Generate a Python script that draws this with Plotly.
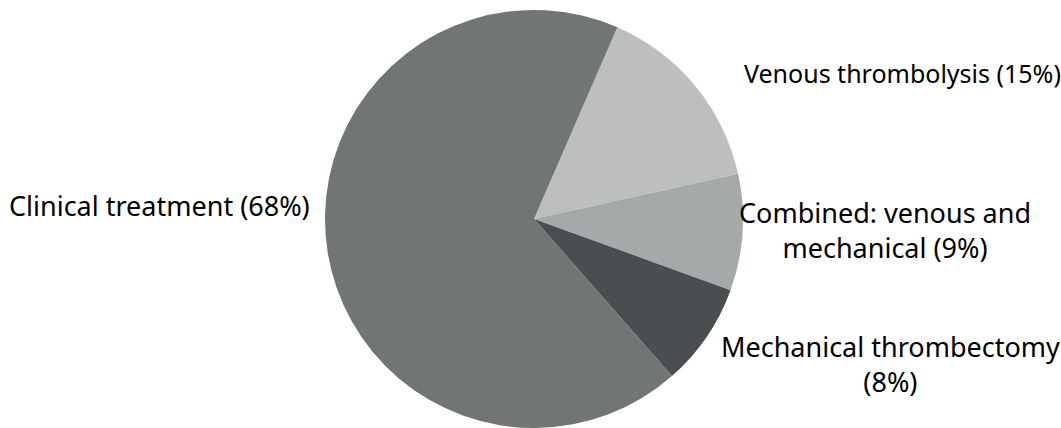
import plotly.graph_objects as go

labels = ["Venous thrombolysis", "Combined: venous and mechanical", "Mechanical thrombectomy", "Clinical treatment"]
values = [15, 9, 8, 68]
colors = ["#bdbfbe", "#a6a9aa", "#4a4e51", "#717675"]
label_texts = ["Venous thrombolysis (15%)", "Combined: venous and<br>mechanical (9%)",
               "Mechanical thrombectomy<br>(8%)", "Clinical treatment (68%)"]
# label centres in pixels (x, y) and font sizes
label_px = [(902, 73), (885, 230), (890, 364), (159, 205)]
label_size = [25, 27, 27, 27]

W, H = 1061, 428

fig = go.Figure(go.Pie(
    labels=labels, values=values, sort=False, direction="clockwise", rotation=23.5,
    marker=dict(colors=colors, line=dict(width=0)),
    textinfo="none", hoverinfo="label+percent", showlegend=False,
    domain=dict(x=[324 / W, 744 / W], y=[0, 1 - 10 / H]),
))

for t, (px, py), s in zip(label_texts, label_px, label_size):
    fig.add_annotation(text=t, x=px / W, y=1 - py / H, xref="paper", yref="paper",
                       xanchor="center", yanchor="middle", showarrow=False, align="center",
                       font=dict(family="Noto Sans", size=s, color="#000000"))

fig.update_layout(width=W, height=H, margin=dict(l=0, r=0, t=0, b=0),
                  paper_bgcolor="white", plot_bgcolor="white")
fig.write_html("out.html", config={"displayModeBar": False},
               post_script="document.body.style.margin='0';document.body.style.overflow='hidden';")
